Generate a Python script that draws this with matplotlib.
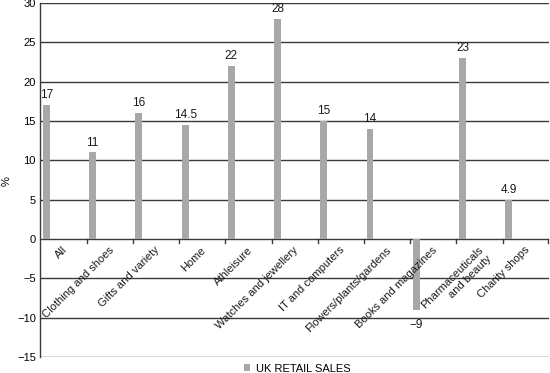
import matplotlib.pyplot as plt
import matplotlib.transforms as mtransforms

# --------------------
# Data
# --------------------
categories = ["All", "Clothing and shoes", "Gifts and variety", "Home", "Athleisure",
              "Watches and jewellery", "IT and computers", "Flowers/plants/gardens",
              "Books and magazines", "Pharmaceuticals\nand beauty", "Charity shops"]
sales = [17, 11, 16, 14.5, 22, 28, 15, 14, -9, 23, 4.9]
value_labels = ["17", "11", "16", "14.5", "22", "28", "15", "14", "\u22129", "23", "4.9"]
y_ticks = [30, 25, 20, 15, 10, 5, 0, -5, -10, -15]
y_tick_labels = ["30", "25", "20", "15", "10", "5", "0", "\u22125", "\u221210", "\u221215"]

plt.rcParams['font.family'] = ['Liberation Sans', 'DejaVu Sans']
bar_color = '#a8a8a8'
line_color = '#3a3a3a'

fig = plt.figure(figsize=(5.5, 3.73), dpi=100)
ax = fig.add_axes([0.0727, 0.043, 0.9253, 0.949])

x = list(range(len(categories)))
ax.bar(x, sales, width=0.15, color=bar_color, zorder=3, label="UK RETAIL SALES")

ax.set_xlim(-0.14, 10.87)
ax.set_ylim(-15, 30)

# horizontal rules
for yv in y_ticks:
    ax.axhline(yv, color=line_color, lw=1.0, zorder=1)

ax.set_yticks(y_ticks)
ax.set_yticklabels(y_tick_labels, fontsize=8)
ax.tick_params(axis='y', length=0, pad=3)

for side in ['top', 'right']:
    ax.spines[side].set_visible(False)
ax.spines['left'].set_color(line_color)
ax.spines['left'].set_linewidth(1.0)
ax.spines['bottom'].set_visible(False)

# category labels below the zero line
ax.set_xticks([])
offset = mtransforms.ScaledTranslation(0, -6 / 100, fig.dpi_scale_trans)
for i, name in enumerate(categories):
    ax.text(i + 0.34, 0, name, transform=ax.transData + offset, rotation=45,
            rotation_mode='anchor', ha='right', va='top', fontsize=8,
            multialignment='right', color='#1a1a1a')

# small separator ticks under the zero line
for bx in [i - 0.13 for i in x[1:]] + [10.86]:
    ax.plot([bx, bx], [0, -0.45], color=line_color, lw=1.0, zorder=2, clip_on=False)

# value labels
for i, (v, lab) in enumerate(zip(sales, value_labels)):
    if v >= 0:
        ax.text(i, v + 0.5, lab, ha='center', va='bottom', fontsize=8.5, color='#1a1a1a')
    else:
        ax.text(i, v - 1.2, lab, ha='center', va='top', fontsize=8.5, color='#1a1a1a')

fig.text(0.012, 0.515, "%", rotation=90, ha='center', va='center', fontsize=8)

fig.legend(loc='center', bbox_to_anchor=(0.54, 0.012), frameon=False, fontsize=8,
           handlelength=0.6, handleheight=0.6, handletextpad=0.5, borderpad=0)

fig.savefig("out.png", dpi=100)
